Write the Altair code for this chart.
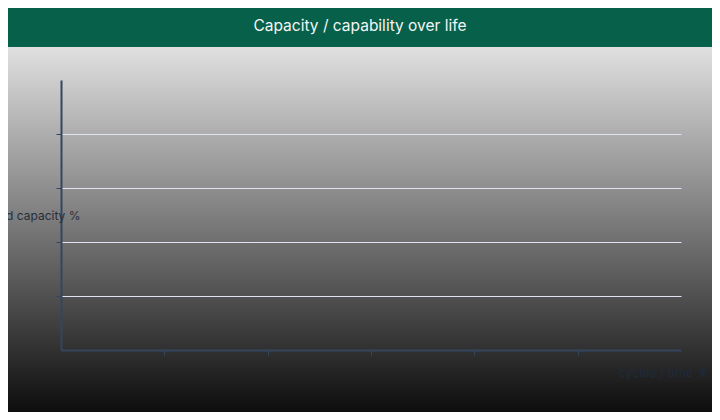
import altair as alt
import pandas as pd

# Data (the reference chart shows no plotted series)
cycles = []
capacity = []
x_ticks = [1, 2, 3, 4, 5]
y_ticks = [20, 40, 60, 80]
x_domain = [0, 6]
y_domain = [0, 100]

data = pd.DataFrame({
    "cycles": pd.Series(cycles, dtype=float),
    "capacity": pd.Series(capacity, dtype=float),
})

one = alt.Data(values=[{}])

W, H = 620, 270
PL, PT = 53, 72
TOTAL_W, TOTAL_H = 704, 404

bg = alt.Chart(one).mark_rect(
    fill=alt.Gradient(
        gradient="linear",
        stops=[alt.GradientStop(color="#e0e0e0", offset=0),
               alt.GradientStop(color="#0d0d0d", offset=1)],
        x1=0, x2=0, y1=0, y2=1,
    )
).encode(
    x=alt.value(-PL), x2=alt.value(TOTAL_W - PL),
    y=alt.value(39 - PT), y2=alt.value(TOTAL_H - PT),
)

bar = alt.Chart(one).mark_rect(fill="#06604a").encode(
    x=alt.value(-PL), x2=alt.value(TOTAL_W - PL),
    y=alt.value(-PT), y2=alt.value(39 - PT),
)

title = alt.Chart(one).mark_text(
    text="Capacity / capability over life", color="#f5f5f5", fontSize=15.5,
    font="Inter", align="center", baseline="middle",
).encode(x=alt.value(352 - PL), y=alt.value(18 - PT))

line = alt.Chart(data).mark_line(color="#4a90d9").encode(
    x=alt.X("cycles:Q", scale=alt.Scale(domain=x_domain, nice=False),
            axis=alt.Axis(values=x_ticks, labels=False, grid=False,
                          domainColor="#34465e", domainWidth=2,
                          tickColor="#34465e", tickSize=5, tickWidth=1,
                          title="cycles / time \U0001FBC5", titleColor="#1f2a3b",
                          titleFont="Inter", titleFontSize=12.5,
                          titleFontWeight="normal", titleAngle=0,
                          titleAlign="left", titleBaseline="middle",
                          titleX=557, titleY=22, zindex=1)),
    y=alt.Y("capacity:Q", scale=alt.Scale(domain=y_domain, nice=False),
            axis=alt.Axis(values=y_ticks, labels=False, grid=True,
                          gridColor="#dfe2f0", gridWidth=1,
                          domainColor="#34465e", domainWidth=2,
                          tickColor="#34465e", tickSize=5, tickWidth=1,
                          title="Retained capacity %", titleColor="#262e3c",
                          titleFont="Inter", titleFontSize=12,
                          titleFontWeight="normal", titleAngle=0,
                          titleAlign="right", titleBaseline="middle",
                          titleX=19, titleY=135, zindex=1)),
)

chart = alt.layer(bg, bar, title, line).properties(
    width=W, height=H,
    autosize=alt.AutoSizeParams(type="none"),
    padding={"left": PL, "top": PT, "right": TOTAL_W - PL - W, "bottom": TOTAL_H - PT - H},
).configure_view(stroke=None)

chart.save("out.html", embed_options={"renderer": "svg", "actions": False})
